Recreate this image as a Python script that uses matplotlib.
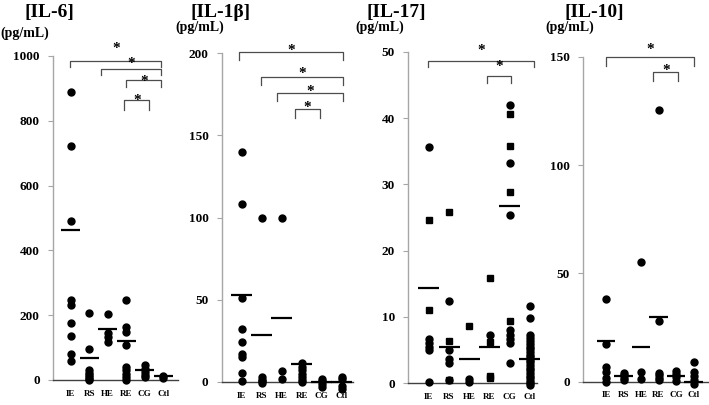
import matplotlib
matplotlib.use('Agg')
import matplotlib.pyplot as plt
from matplotlib import transforms

plt.rcParams['font.family'] = ['Liberation Serif', 'DejaVu Serif']
plt.rcParams['font.weight'] = 'bold'

# --- DATA ---
groups = ['IE', 'RS', 'HE', 'RE', 'CG', 'Ctl']

il6_values = {
    'IE': [888, 722, 490, 247, 233, 175, 136, 79, 59],
    'RS': [208, 95, 30, 22, 15, 8, 3, 0],
    'HE': [204, 146, 132, 118],
    'RE': [247, 163, 149, 108, 40, 30, 20, 10, 0],
    'CG': [45, 35, 25, 15, 8],
    'Ctl': [12, 5],
}
il6_means = [462, 67, 157, 121, 31, 12]

il1b_values = {
    'IE': [140, 108, 51, 32, 24.5, 17, 15, 5.7, 0.8],
    'RS': [100, 3, 1.5, 0.5, -0.5],
    'HE': [100, 6.9, 1.8],
    'RE': [11.5, 9, 7, 5, 3, 1, 0],
    'CG': [2, 0.5, -1.5, -3],
    'Ctl': [3, 2, -2.5, -4],
}
il1b_means = [52.9, 28.6, 38.7, 10.9, 0, 0]

il17_circles = {
    'IE': [35.6, 6.6, 6.1, 5.5, 5.0, 0.1],
    'RS': [12.4, 5.0, 3.7, 3.0, 0.5],
    'HE': [0.6, 0.2],
    'RE': [7.3],
    'CG': [42.0, 33.3, 25.4, 8.0, 7.3, 6.6, 6.0, 3.0],
    'Ctl': [11.6, 9.8, 7.2, 6.8, 6.3, 5.9, 5.5, 5.1, 4.7, 4.3, 3.9, 3.5,
            3.1, 2.7, 2.3, 1.9, 1.5, 1.1, 0.7, 0.3, 0.0, -0.3],
}
il17_squares = {
    'IE': [24.6, 11.0],
    'RS': [25.8, 6.4, 0.4],
    'HE': [8.6],
    'RE': [15.9, 6.2, 1.0, 0.7],
    'CG': [40.6, 35.8, 28.8, 9.3],
    'Ctl': [],
}
il17_means = [14.3, 5.5, 3.7, 5.5, 26.7, 3.7]

il10_values = {
    'IE': [38.1, 17.2, 6.6, 4.6, 1.6, 0.0],
    'RS': [4.0, 3.0, 1.8, 0.6],
    'HE': [55.3, 4.3, 1.2],
    'RE': [125.2, 28.1, 4.0, 3.0, 1.8, 0.6],
    'CG': [5.0, 3.5, 2.0, 0.3],
    'Ctl': [9.2, 4.5, 2.6, 0.8, -1.2],
}
il10_means = [18.7, 2.8, 16.1, 29.7, 2.8, 0]

# --- LAYOUT ---
W, H = 709, 405
fig = plt.figure(figsize=(W / 100, H / 100), dpi=100)

panels = [
    dict(title='[IL-6]', circles=il6_values, squares=None, means=il6_means,
         ymax=1000, step=200, box=(53, 178, 56, 380), xlim=(-0.96, 5.8),
         title_x=25, unit_x=0, unit_y=33,
         brackets=[(-0.04, 4.9, 985, 967, 1034), (1.64, 4.9, 960, 941, 988),
                   (2.99, 4.9, 926, 903, 934), (2.88, 4.25, 864, 833, 874)]),
    dict(title='[IL-1\u03b2]', circles=il1b_values, squares=None, means=il1b_means,
         ymax=200, step=50, box=(221.7, 353.3, 53, 382), xlim=(-1.0, 5.58),
         title_x=190, unit_x=175, unit_y=27,
         brackets=[(-0.12, 5.08, 200.8, 195.7, 204), (0.95, 5.08, 185.6, 180.5, 190),
                   (1.78, 5.08, 175.9, 170.8, 179), (2.68, 3.9, 166, 160.3, 169)]),
    dict(title='[IL-17]', circles=il17_circles, squares=il17_squares, means=il17_means,
         ymax=50, step=10, box=(408.3, 537, 52, 383), xlim=(-1.02, 5.35),
         title_x=366, unit_x=355, unit_y=27,
         brackets=[(-0.03, 5.2, 48.6, 47.8, 50.8), (2.89, 4.06, 46.4, 45.3, 48.4)]),
    dict(title='[IL-10]', circles=il10_values, squares=None, means=il10_means,
         ymax=150, step=50, box=(583.3, 709, 56.7, 381.7), xlim=(-1.3, 5.88),
         title_x=564, unit_x=545, unit_y=27,
         brackets=[(0.0, 5.0, 149.8, 145.5, 155), (2.7, 4.13, 142.9, 139, 145.5)]),
]

for p in panels:
    l, r, t, b = p['box']
    ax = fig.add_axes([l / W, 1 - b / H, (r - l) / W, (b - t) / H])

    for i, g in enumerate(groups):
        vals = p['circles'][g]
        ax.plot([i] * len(vals), vals, 'o', color='black', ms=5,
                clip_on=False, zorder=3)
        if p['squares'] is not None and p['squares'][g]:
            sq = p['squares'][g]
            ax.plot([i] * len(sq), sq, 's', color='black', ms=4.8,
                    clip_on=False, zorder=3)
        ax.hlines(p['means'][i], i - 0.52, i + 0.52, colors='black', lw=1.6,
                  clip_on=False, zorder=4)

    # significance brackets; the asterisk glyph sits high in its box, pull it down
    star_tr = transforms.offset_copy(ax.transData, fig=fig, y=-4, units='dots')
    for x0, x1, y, y_end, y_star in p['brackets']:
        ax.plot([x0, x0, x1, x1], [y_end, y, y, y_end], color='#4d4d4d',
                lw=0.9, clip_on=False)
        ax.text((x0 + x1) / 2, y_star, '*', ha='center', va='center',
                fontsize=11, fontweight='bold', transform=star_tr, clip_on=False)

    ax.set_xlim(*p['xlim'])
    ax.set_ylim(0, p['ymax'])
    ax.set_yticks(range(0, p['ymax'] + 1, p['step']))
    ax.set_xticks(range(len(groups)))
    ax.set_xticklabels(groups, fontsize=6.5, fontweight='bold')
    for lab in ax.get_yticklabels():
        lab.set_fontweight('bold')
    ax.tick_params(axis='x', length=0, pad=7)
    ax.tick_params(axis='y', direction='out', length=3.5, width=0.8,
                   color='#a6a6a6', labelsize=9.5, pad=6)
    for s in ('top', 'right'):
        ax.spines[s].set_visible(False)
    ax.spines['left'].set_color('#a6a6a6')
    ax.spines['left'].set_linewidth(1)
    ax.spines['bottom'].set_color('#404040')
    ax.spines['bottom'].set_linewidth(1)

    fig.text(p['title_x'] / W, 1 - 12.5 / H, p['title'], fontsize=14,
             fontweight='bold', ha='left', va='center')
    fig.text(p['unit_x'] / W, 1 - p['unit_y'] / H, '(pg/mL)', fontsize=10,
             fontweight='bold', ha='left', va='center')

fig.savefig('out.png', dpi=100)
